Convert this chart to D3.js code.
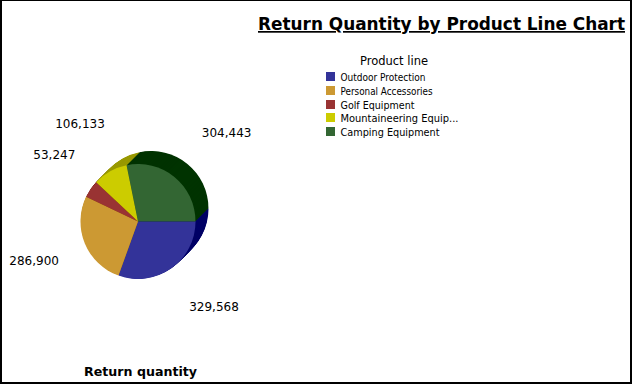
<!DOCTYPE html>
<html>
<head>
<meta charset="utf-8">
<script src="https://cdnjs.cloudflare.com/ajax/libs/d3/7.8.5/d3.min.js"></script>
<style>
    html, body { margin: 0; padding: 0; background: #fff; }
    svg { display: block; }
    text { font-family: "DejaVu Sans", sans-serif; fill: #000; }
</style>
</head>
<body>
<svg id="chart"></svg>
<script>
const categories = ["Outdoor Protection", "Personal Accessories", "Golf Equipment", "Mountaineering Equip...", "Camping Equipment"];
const returnQuantity = [329568, 286900, 53247, 106133, 304443];
const sliceColors = ["#333399", "#cc9933", "#993333", "#cccc00", "#336633"];
const depthColors = ["#000066", "#996600", "#660000", "#999900", "#003300"];

let width = 633, height = 385;
let radius = 57.5;
let depth = 13;
let cx = 138, cy = 221.5;

let svg = d3.select("#chart").attr("width", width).attr("height", height);

svg.append("rect")
    .attr("x", 1).attr("y", 0)
    .attr("width", 630).attr("height", 383)
    .attr("fill", "#fff")
    .attr("stroke", "#000")
    .attr("stroke-width", 2);

// title
svg.append("text")
    .attr("x", 258).attr("y", 30)
    .attr("textLength", 367)
    .attr("lengthAdjust", "spacingAndGlyphs")
    .attr("font-size", 17)
    .attr("font-weight", "bold")
    .attr("text-decoration", "underline")
    .text("Return Quantity by Product Line Chart");

// pie, starts at 3 o'clock and goes clockwise
let pie = d3.pie().sort(null)
    .startAngle(Math.PI / 2)
    .endAngle(Math.PI * 2.5);
let slices = pie(returnQuantity);
let arc = d3.arc().innerRadius(0).outerRadius(radius);

// extrusion, furthest layer first
let layers = d3.range(depth, 0, -0.5);
let back = svg.append("g");
layers.forEach(function(off) {
    back.append("g")
        .attr("transform", "translate(" + (cx + off) + "," + (cy - off) + ")")
        .selectAll("path")
        .data(slices)
        .enter().append("path")
        .attr("d", arc)
        .attr("fill", (d, i) => depthColors[i]);
});

svg.append("g")
    .attr("transform", "translate(" + cx + "," + cy + ")")
    .selectAll("path")
    .data(slices)
    .enter().append("path")
    .attr("d", arc)
    .attr("fill", (d, i) => sliceColors[i]);

// value labels, the nudges follow the original label placement
let labelArc = d3.arc().innerRadius(114).outerRadius(114);
let nudgeX = [5, -4, 5, -8, 11];
let nudgeY = [-4, -1, 1, 5, 3];
svg.append("g")
    .attr("transform", "translate(" + (cx + 5.5) + "," + (cy - 3.5) + ")")
    .selectAll("text")
    .data(slices)
    .enter().append("text")
    .attr("x", (d, i) => labelArc.centroid(d)[0] + nudgeX[i])
    .attr("y", (d, i) => labelArc.centroid(d)[1] + nudgeY[i])
    .attr("dy", "0.35em")
    .attr("text-anchor", "middle")
    .attr("font-size", 12)
    .text(d => d3.format(",")(d.value));

// legend
let legend = svg.append("g");
legend.append("text")
    .attr("x", 360).attr("y", 65)
    .attr("textLength", 68)
    .attr("lengthAdjust", "spacingAndGlyphs")
    .attr("font-size", 12)
    .text("Product line");

let legendWidths = [85, 92, 74, 118, 99];
let legendY = d3.scalePoint().domain(categories).range([77, 132]);
let rows = legend.selectAll("g.row")
    .data(categories)
    .enter().append("g")
    .attr("class", "row")
    .attr("transform", d => "translate(326," + Math.round(legendY(d)) + ")");
rows.append("rect")
    .attr("y", -5).attr("width", 9).attr("height", 9)
    .attr("fill", (d, i) => sliceColors[i]);
rows.append("text")
    .attr("x", 14.5).attr("y", 0)
    .attr("dy", "0.35em")
    .attr("font-size", 10)
    .attr("textLength", (d, i) => legendWidths[i])
    .attr("lengthAdjust", "spacingAndGlyphs")
    .text(d => d);

// measure title
svg.append("text")
    .attr("x", 84).attr("y", 376)
    .attr("textLength", 113)
    .attr("lengthAdjust", "spacingAndGlyphs")
    .attr("font-size", 13)
    .attr("font-weight", "bold")
    .text("Return quantity");
</script>
</body>
</html>
